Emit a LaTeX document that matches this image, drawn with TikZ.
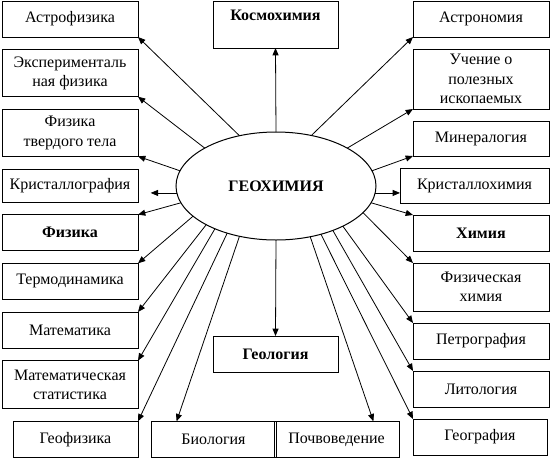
\documentclass[tikz,border=0pt]{standalone}
\usepackage{fontspec}
\setmainfont{Liberation Serif}
\usetikzlibrary{positioning,shapes.geometric,arrows.meta}

\begin{document}
\begin{tikzpicture}[
    x=0.75pt, y=-0.75pt,
    node distance=9pt, % vertical gap in the right column
    box/.style={draw, line width=0.75pt, minimum width=102pt, minimum height=27pt, inner sep=2pt, outer sep=0pt, align=center, font=\fontsize{12pt}{14.5pt}\selectfont},
    hbox/.style={box, font=\fontsize{12pt}{14.5pt}\selectfont\bfseries},
    arr/.style={draw, line width=0.6pt, -{Triangle[length=5.5pt,width=4.5pt]}}
  ]

  \useasboundingbox (0,0) rectangle (551,458);

  % Centre
  \node[ellipse, draw, line width=0.75pt, minimum width=150pt, minimum height=81pt, inner sep=0pt, outer sep=0pt, font=\fontsize{12pt}{14.5pt}\selectfont\bfseries] (geo) at (276,186) {ГЕОХИМИЯ};

  % Top and bottom
  \node[hbox, anchor=north, minimum width=93.75pt, minimum height=0pt, text height=11.25pt, text depth=18pt, inner ysep=3pt] (cosmo) at (275.5,1) {Космохимия};
  \node[hbox, minimum width=93.75pt] (geol) at (275.5,354) {Геология};

  % Left column
  \node[box] (astrophys) at (70,19) {Астрофизика};
  \node[box, minimum height=35.25pt, below=9.5pt of astrophys] (expphys) {Эксперименталь\\ная физика};
  \node[box, minimum height=35.25pt, below=9.5pt of expphys] (solid) {Физика\\твердого тела};
  \node[box, minimum height=24.75pt, below=9.5pt of solid] (cryst) {Кристаллография};
  \node[hbox, below=9.5pt of cryst] (phys) {Физика};
  \node[box, below=9.5pt of phys] (thermo) {Термодинамика};
  \node[box, below=9.5pt of thermo] (math) {Математика};
  \node[box, minimum height=36pt, below=9.5pt of math] (stat) {Математическая\\статистика};
  \node[box, minimum width=93.75pt, below=9.5pt of stat.south east, anchor=north east] (geophys) {Геофизика};

  % Bottom row
  \node[box, minimum width=93.75pt, right=9.75pt of geophys] (bio) {Биология};
  \node[box, minimum width=93.75pt, right=-1.5pt of bio] (soil) {Почвоведение};

  % Right column
  \node[box] (astron) at (481,19) {Астрономия};
  \node[box, minimum height=45pt, below=of astron] (ores) {Учение о\\полезных\\ископаемых};
  \node[box, minimum height=26.25pt, below=of ores] (miner) {Минералогия};
  \node[box, minimum width=111.75pt, minimum height=26.25pt, below=of miner.south east, anchor=north east] (crchem) {Кристаллохимия};
  \node[hbox, below=of crchem.south east, anchor=north east] (chem) {Химия};
  \node[box, minimum height=36pt, below=of chem] (physchem) {Физическая\\химия};
  \node[box, below=of physchem] (petro) {Петрография};
  \node[box, below=of petro] (litho) {Литология};
  \node[box, minimum width=100.5pt, below=of litho.south west, anchor=north west] (geogr) {География};

  % Arrows
  \draw[arr] (geo.north) -- (cosmo.south);
  \draw[arr] (geo.south) -- (geol.north);
  \draw[arr] (geo.126) -- (astrophys.south east);
  \draw[arr] (geo.152) -- (expphys.south east);
  \draw[arr] (geo.171) -- (solid.south east);
  \draw[arr, shorten >=9.5pt] (geo.184) -- (geo.184 -| cryst.east);
  \draw[arr] (geo.190) -- (phys.north east);
  \draw[arr] (geo.200) -- (thermo.north east);
  \draw[arr] (geo.209) -- (math.north east);
  \draw[arr] (geo.215) -- (stat.north east);
  \draw[arr] (geo.224) -- (geophys.north east);
  \draw[arr] (geo.234) -- (bio.154);
  \draw[arr] (geo.304) -- (soil.26);
  \draw[arr] (geo.313) -- (geogr.north west);
  \draw[arr] (geo.322) -- (litho.north west);
  \draw[arr] (geo.329) -- (petro.north west);
  \draw[arr] (geo.343) -- (physchem.north west);
  \draw[arr] (geo.350) -- (chem.north west);
  \draw[arr] (geo.356) -- (geo.356 -| crchem.west);
  \draw[arr] (geo.9) -- (miner.south west);
  \draw[arr] (geo.28) -- (ores.south west);
  \draw[arr] (geo.55) -- (astron.south west);

\end{tikzpicture}
\end{document}
